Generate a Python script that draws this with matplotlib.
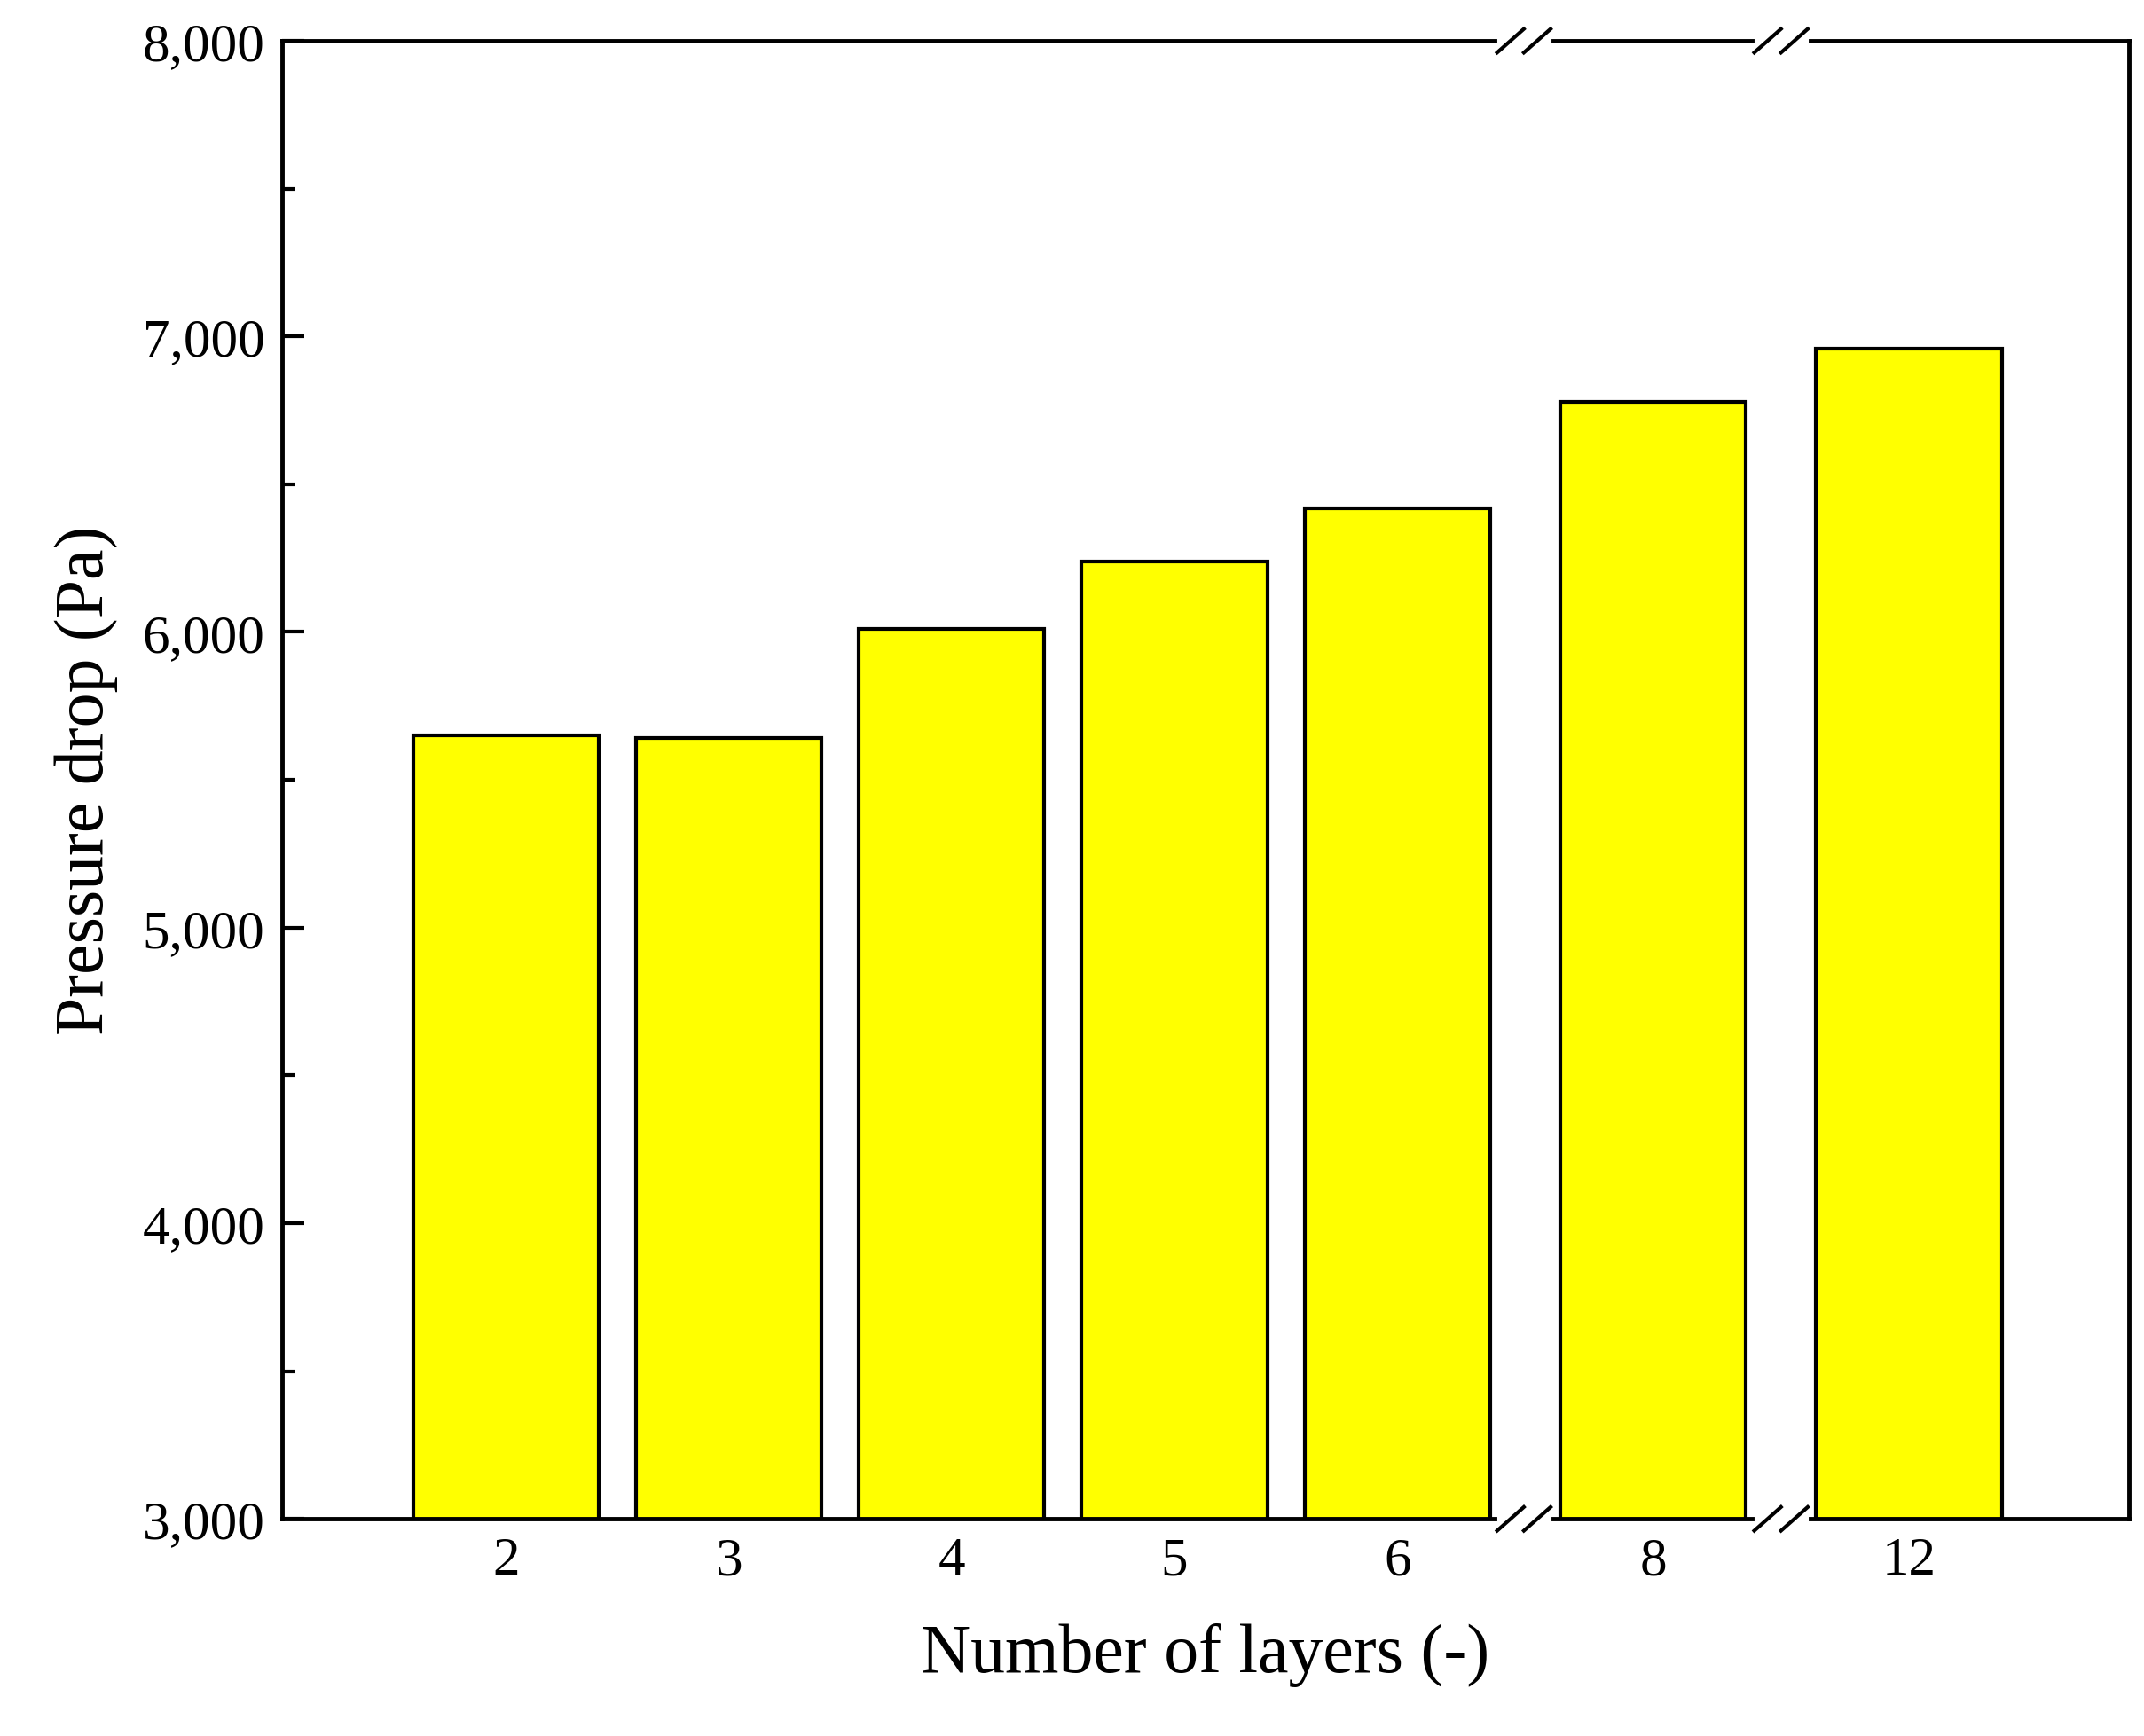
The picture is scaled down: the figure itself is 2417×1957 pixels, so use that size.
import matplotlib
matplotlib.use("Agg")
import matplotlib.pyplot as plt
from matplotlib.ticker import MultipleLocator, FuncFormatter

categories = ["2", "3", "4", "5", "6", "8", "12"]
values = [5650, 5640, 6010, 6240, 6420, 6780, 6960]
positions = [0, 1, 2, 3, 4, 5.148, 6.296]
breaks = [4.568, 5.722]

plt.rcParams['font.family'] = ['Liberation Serif', 'DejaVu Serif']
fig = plt.figure(figsize=(24.17, 19.58), dpi=100)
ax = fig.add_axes([0.1315, 0.125, 0.8615, 0.851])
ax.bar(positions, values, width=0.833, color='#ffff00', edgecolor='black', linewidth=3, zorder=2)
ax.set_xlim(-1.006, 7.284)
ax.set_ylim(3000, 8000)
ax.set_xticks(positions)
ax.set_xticklabels(categories)
ax.yaxis.set_major_locator(MultipleLocator(1000))
ax.yaxis.set_minor_locator(MultipleLocator(500))
ax.yaxis.set_major_formatter(FuncFormatter(lambda v, p: f"{int(v):,}"))
ax.tick_params(axis='both', which='major', direction='in', length=18, width=3, labelsize=44, pad=14)
ax.tick_params(axis='y', which='minor', direction='in', length=10, width=3)
ax.tick_params(axis='x', top=False)
for s in ax.spines.values():
    s.set_linewidth(3.5)
ax.set_xlabel("Number of layers (-)", fontsize=56, labelpad=30)
ax.set_ylabel("Pressure drop (Pa)", fontsize=56, labelpad=20)

dx = 0.1
for b in breaks:
    for y in (3000, 8000):
        ax.plot([b - dx, b + dx], [y, y], color='white', lw=8, clip_on=False, zorder=5)
        for off in (-0.06, 0.06):
            ax.plot([b + off - 0.06, b + off + 0.06], [y - 40, y + 40], color='black', lw=3,
                    clip_on=False, zorder=6)

fig.savefig("out.png", dpi=100)
